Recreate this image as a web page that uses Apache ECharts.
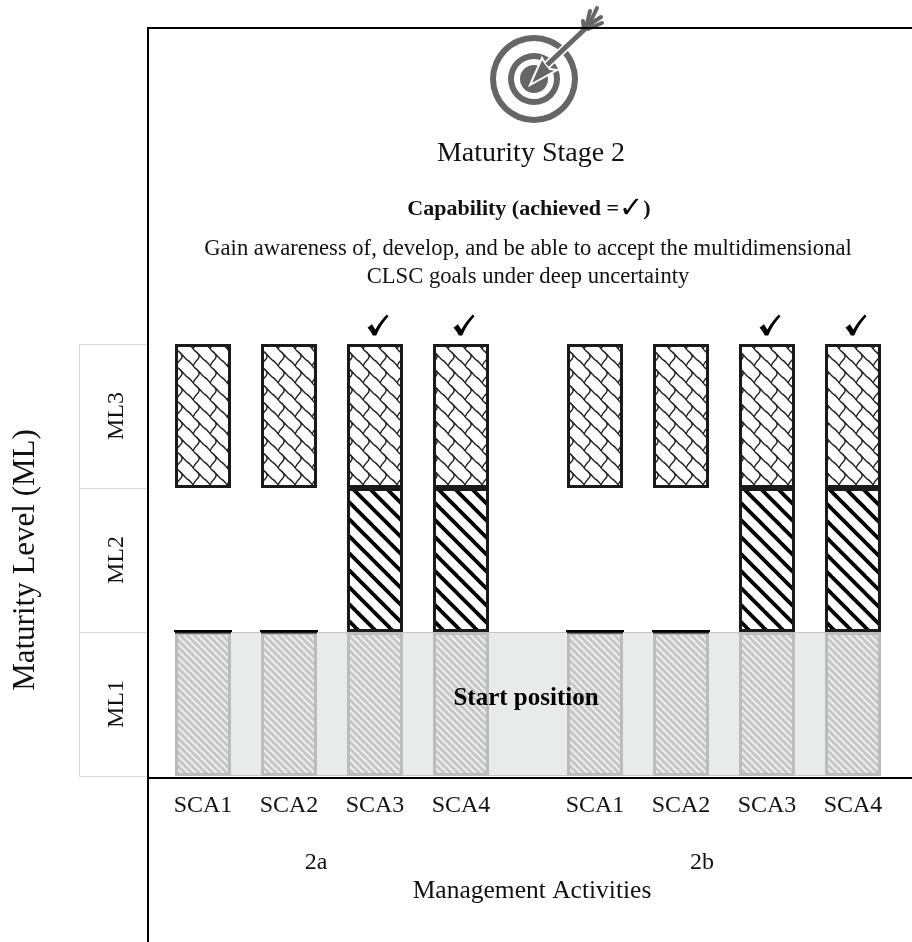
<!DOCTYPE html>
<html>
<head>
<meta charset="utf-8">
<style>html,body{margin:0;padding:0;background:#fff}#main{width:912px;height:942px}</style>
<script src="https://cdn.jsdelivr.net/npm/echarts@6/dist/echarts.min.js"></script>
</head>
<body>
<div id="main"></div>
<script>
// chart data
var activities = ['SCA1', 'SCA2', 'SCA3', 'SCA4'];
var levels = ['ML1', 'ML2', 'ML3'];
var bandLabel = ['Start position'];
var ml1 = [1, 1, 1, 1];
var ml2 = [0, 0, 1, 1];
var ml2Empty = [1, 1, 0, 0];
var ml3 = [1, 1, 1, 1];
var achieved = [0, 0, 1, 1];
var serif = '"Liberation Serif", serif';

// little canvas tiles for the fills
function tile (w, h, bg, draw) {
  var c = document.createElement('canvas');
  c.width = w; c.height = h;
  var g = c.getContext('2d');
  g.fillStyle = bg; g.fillRect(0, 0, w, h);
  draw(g);
  return { image: c, repeat: 'repeat' };
}
function stripes (size, width, colour, bg) {
  return tile(size, size, bg, function (g) {
    g.strokeStyle = colour; g.lineWidth = width;
    for (var k = -1; k <= 1; k++) {
      g.beginPath(); g.moveTo(k * size - 2, -2); g.lineTo(k * size + size + 2, size + 2); g.stroke();
    }
  });
}
var scales = tile(17, 17, '#fff', function (g) {
  g.strokeStyle = '#222'; g.lineWidth = 1.4;
  for (var dx = -34; dx <= 34; dx += 17) {
    for (var dy = -34; dy <= 34; dy += 17) {
      g.save(); g.translate(dx, dy);
      g.beginPath();
      // chain running down to the right
      g.moveTo(0, 3); g.bezierCurveTo(3, 4, 5, 8, 8, 11);
      g.bezierCurveTo(10, 12, 14, 17, 17, 20);
      // hook joining it to the next chain
      g.moveTo(8, 11); g.bezierCurveTo(12, 13, 13, 17, 11, 19);
      g.bezierCurveTo(9, 21, 7, 23, 6, 26);
      g.stroke();
      g.restore();
    }
  }
});
var blackHatch = stripes(17, 3.8, '#000', '#fff');
var greyHatch = stripes(7, 3, '#c6c6c6', '#eeeeee');

var checkPath = 'path://M0 15 L5 11 L9 17 C13 10 18 4 22 0 L24 2 C18 9 13 16 10 24 L6 24 C5 21 3 18 0 15 Z';

function barSeries (axis, name, values, style) {
  return {
    type: 'bar', name: name, stack: 'levels' + axis, xAxisIndex: axis, yAxisIndex: axis,
    data: values, barWidth: 56, z: 3, itemStyle: style, silent: true
  };
}

function groupSeries (axis) {
  return [
    barSeries(axis, 'ML1', ml1, { color: greyHatch, borderColor: '#bcbcbc', borderWidth: 3 }),
    barSeries(axis, 'ML2', ml2, { color: blackHatch, borderColor: '#1a1a1a', borderWidth: 3 }),
    barSeries(axis, 'ML2 empty', ml2Empty, { color: 'transparent', borderWidth: 0 }),
    barSeries(axis, 'ML3', ml3, { color: scales, borderColor: '#1a1a1a', borderWidth: 3 }),
    {
      // thin rule sitting on top of ML1 where ML2 is not reached
      type: 'scatter', xAxisIndex: axis, yAxisIndex: axis, z: 4, silent: true,
      symbol: 'rect', symbolSize: [58, 2], symbolOffset: [0, -1],
      itemStyle: { color: '#000', opacity: 1 },
      data: ml2Empty.map(function (v, i) { return v ? [i, ml1[i]] : null; }).filter(Boolean)
    },
    {
      type: 'scatter', xAxisIndex: axis, yAxisIndex: axis, z: 4, silent: true,
      symbol: checkPath, symbolSize: [21, 21], symbolOffset: [3, -19],
      itemStyle: { color: '#000', opacity: 1 },
      data: achieved.map(function (v, i) { return v ? [i, levels.length] : null; }).filter(Boolean)
    }
  ];
}

function groupXAxis (grid, name, shift) {
  return {
    type: 'category', gridIndex: grid, data: activities, position: 'bottom',
    axisLine: { show: false }, axisTick: { show: false },
    axisLabel: { fontFamily: serif, fontSize: 24, color: '#111', margin: 18 },
    name: name, nameLocation: 'middle', nameGap: 75,
    nameTextStyle: { fontFamily: serif, fontSize: 24, color: '#111', padding: [0, shift, 0, 0] }
  };
}
function hiddenY (grid) {
  return { type: 'value', gridIndex: grid, min: 0, max: 3, interval: 1, show: false };
}

var chart = echarts.init(document.getElementById('main'));

var option = {
  backgroundColor: '#fff',
  animation: false,
  title: [
    { text: 'Maturity Stage 2', left: 526, top: 135, textAlign: 'center',
      textStyle: { fontFamily: serif, fontSize: 28, fontWeight: 'normal', color: '#111' } },
    { text: '{b|Capability (achieved =}{c|✓}{b|)}', left: 524, top: 190, textAlign: 'center',
      textStyle: { rich: {
        b: { fontFamily: serif, fontSize: 22, fontWeight: 'bold', color: '#111' },
        c: { fontFamily: '"DejaVu Sans"', fontSize: 29, fontWeight: 'bold', color: '#000' }
      } } },
    { text: 'Gain awareness of, develop, and be able to accept the multidimensional\nCLSC goals under deep uncertainty',
      left: 523, top: 230, textAlign: 'center',
      textStyle: { fontFamily: serif, fontSize: 22.6, fontWeight: 'normal', color: '#111', lineHeight: 28 } }
  ],
  grid: [
    { left: 160, width: 344, top: 344, height: 432 },
    { left: 552, width: 344, top: 344, height: 432 },
    { left: 175, width: 706, top: 344, height: 432 }
  ],
  xAxis: [
    groupXAxis(0, '2a', 32),
    groupXAxis(1, '2b', 44),
    {
      type: 'category', gridIndex: 2, data: bandLabel,
      axisLine: { show: false }, axisTick: { show: false }, axisLabel: { show: false },
      name: 'Management Activities', nameLocation: 'middle', nameGap: 102,
      nameTextStyle: { fontFamily: serif, fontSize: 25.5, color: '#111', padding: [0, 0, 0, 8] }
    }
  ],
  yAxis: [
    hiddenY(0),
    hiddenY(1),
    hiddenY(2),
    {
      type: 'category', gridIndex: 2, data: levels, position: 'left', offset: 27,
      axisLine: { show: false },
      axisTick: { show: true, length: 69, lineStyle: { color: '#d9d9d9', width: 1 } },
      axisLabel: { rotate: 90, fontFamily: serif, fontSize: 24, color: '#111', margin: 19 },
      name: 'Maturity Level (ML)', nameLocation: 'middle', nameGap: 107,
      nameTextStyle: { fontFamily: serif, fontSize: 31, color: '#111' }
    }
  ],
  series: [
    {
      type: 'bar', xAxisIndex: 2, yAxisIndex: 2, data: [1], barWidth: '100%', z: 1, silent: true,
      itemStyle: { color: '#e9ebeb', borderColor: '#c4c4c4', borderWidth: 1 }
    },
    {
      type: 'scatter', xAxisIndex: 2, yAxisIndex: 2, data: [[0, 0.54]], symbolSize: 0, z: 6, silent: true,
      itemStyle: { opacity: 1 },
      label: {
        show: true, position: 'inside', formatter: bandLabel[0], offset: [-2, 0],
        fontFamily: serif, fontSize: 25, fontWeight: 'bold', color: '#000', opacity: 1
      }
    }
  ].concat(groupSeries(0), groupSeries(1)),
  graphic: [
    // frame
    { type: 'polyline', z: 8, silent: true, shape: { points: [[148, 942], [148, 28], [912, 28]] },
      style: { stroke: '#000', lineWidth: 2, fill: null } },
    { type: 'line', z: 8, silent: true, shape: { x1: 148, y1: 778, x2: 912, y2: 778 },
      style: { stroke: '#000', lineWidth: 2 } },
    { type: 'line', z: 2, silent: true, shape: { x1: 79.5, y1: 344, x2: 79.5, y2: 776 },
      style: { stroke: '#d9d9d9', lineWidth: 1 } },
    // target icon
    { type: 'group', z: 9, silent: true, children: [
      { type: 'ring', shape: { cx: 534, cy: 79, r: 44, r0: 38 }, style: { fill: '#666' } },
      { type: 'ring', shape: { cx: 534, cy: 79, r: 26, r0: 20 }, style: { fill: '#666' } },
      { type: 'circle', shape: { cx: 534, cy: 79, r: 14 }, style: { fill: '#666' } },
      { type: 'line', shape: { x1: 547, y1: 65, x2: 587, y2: 27 }, style: { stroke: '#fff', lineWidth: 8 } },
      { type: 'polygon', shape: { points: [[530, 85], [542, 58], [545, 63], [550, 69], [557, 70]] },
        style: { fill: '#666', stroke: '#fff', lineWidth: 2, lineJoin: 'miter' } },
      { type: 'line', shape: { x1: 547, y1: 65, x2: 587, y2: 27 }, style: { stroke: '#666', lineWidth: 5 } },
      { type: 'line', shape: { x1: 584, y1: 30, x2: 583, y2: 21 }, style: { stroke: '#666', lineWidth: 4, lineCap: 'round' } },
      { type: 'line', shape: { x1: 586, y1: 28, x2: 590, y2: 11 }, style: { stroke: '#666', lineWidth: 4, lineCap: 'round' } },
      { type: 'line', shape: { x1: 588, y1: 27, x2: 597, y2: 8 }, style: { stroke: '#666', lineWidth: 4, lineCap: 'round' } },
      { type: 'line', shape: { x1: 589, y1: 25, x2: 601, y2: 17 }, style: { stroke: '#666', lineWidth: 4, lineCap: 'round' } },
      { type: 'line', shape: { x1: 588, y1: 29, x2: 602, y2: 23 }, style: { stroke: '#666', lineWidth: 4, lineCap: 'round' } }
    ] }
  ]
};

chart.setOption(option);
</script>
</body>
</html>
